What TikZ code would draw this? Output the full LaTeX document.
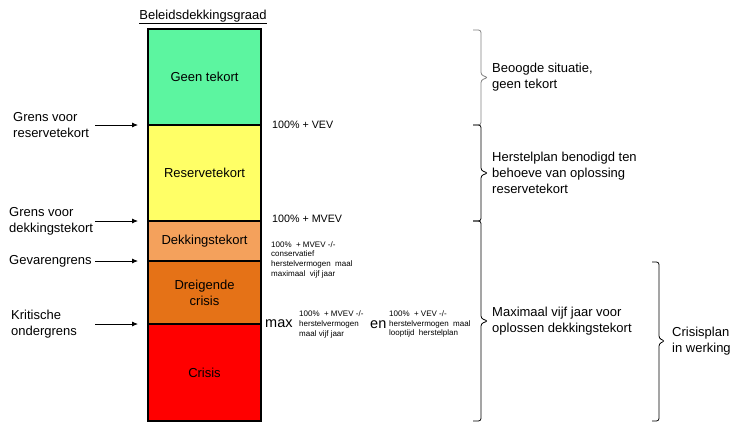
\documentclass[tikz,border=0pt]{standalone}
\usepackage{fontspec}
\setmainfont{Liberation Sans}
\usepackage{tikz}
\usetikzlibrary{arrows.meta, positioning}
\definecolor{geengroen}{HTML}{5CF5A0}
\definecolor{reservegeel}{HTML}{FFFF66}
\definecolor{dekkingoranje}{HTML}{F4A15C}
\definecolor{dreigoranje}{HTML}{E57217}
\definecolor{crisisrood}{HTML}{FF0000}
\definecolor{accgrijs}{HTML}{808080}

\begin{document}
\begin{tikzpicture}[x=1pt, y=-1pt,
    vak/.style={draw=black, line width=1.5pt, minimum width=113pt, inner sep=0pt, outer sep=0pt,
      align=center, anchor=north, font={\fontsize{13}{16}\selectfont}},
    tekst/.style={anchor=west, inner sep=0pt, align=left, font={\fontsize{13}{16}\selectfont}},
    kleintekst/.style={anchor=west, inner sep=0pt, align=left, font={\fontsize{8}{9.7}\selectfont}},
    pijl/.style={-{Latex[length=6pt, width=5pt]}, line width=0.8pt, shorten >=10pt},
    accolade/.style={line width=0.8pt, rounded corners=2.5pt}]
    \useasboundingbox (0,0) rectangle (733,426);
    % Title
    \node[inner sep=0pt, anchor=base, font={\fontsize{13}{16}\selectfont}] (titel) at (203,19) {\underline{Beleidsdekkingsgraad}};
    % Column of zones
    \node[vak, fill=geengroen, minimum height=96pt] (geen) at (204.5,29) {Geen tekort};
    \node[vak, fill=reservegeel, minimum height=96pt, below=0pt of geen] (reserve) {Reservetekort};
    \node[vak, fill=dekkingoranje, minimum height=40pt, below=0pt of reserve] (dekking) {Dekkingstekort};
    \node[vak, fill=dreigoranje, minimum height=63pt, below=0pt of dekking] (dreigend) {Dreigende\\crisis};
    \node[vak, fill=crisisrood, minimum height=97pt, below=0pt of dreigend] (crisis) {Crisis};
    % Boundaries on the left
    \coordinate (pijlstart) at (95,0);
    \node[tekst] (grensres) at (13,125) {Grens voor\\reservetekort};
    \node[tekst] (grensdek) at (9,221) {Grens voor\\dekkingstekort};
    \node[tekst] (gevaren) at (9,261) {Gevarengrens};
    \node[tekst] (kritisch) at (11,324) {Kritische\\ondergrens};
    \draw[pijl] (pijlstart |- reserve.north west) -- (reserve.north west);
    \draw[pijl] (pijlstart |- dekking.north west) -- (dekking.north west);
    \draw[pijl] (pijlstart |- dreigend.north west) -- (dreigend.north west);
    \draw[pijl] (pijlstart |- crisis.north west) -- (crisis.north west);
    % Levels on the right of the column
    \node[tekst, font={\fontsize{10.7}{13}\selectfont}] (vev) at (272,125) {100\% + VEV};
    \node[tekst, font={\fontsize{10.7}{13}\selectfont}] (mvev) at (272,219) {100\% + MVEV};
    \node[kleintekst] (gevarenformule) at (271,259.5) {100\%\ \ + MVEV -/-\\conservatief\\herstelvermogen\ \ maal\\maximaal\ \ vijf jaar};
    \node[tekst, font={\fontsize{14.5}{16}\selectfont}] (max) at (265,324) {max};
    \node[kleintekst] (formule1) at (299,324.5) {100\%\ \ + MVEV -/-\\herstelvermogen\\maal vijf jaar};
    \node[tekst, font={\fontsize{14.5}{16}\selectfont}] (en) at (370,325) {en};
    \node[kleintekst] (formule2) at (389,324) {100\%\ \ + VEV -/-\\herstelvermogen\ \ maal\\looptijd\ \ herstelplan};
    % Braces
    \draw[accolade, accgrijs] (473,30) -- (481,30) -- (481,75) -- (488,77.5) -- (481,80) -- (481,125) -- (473,125);
    \draw[accolade] (473,125) -- (481,125) -- (481,170.5) -- (488,173) -- (481,175.5) -- (481,221) -- (473,221);
    \draw[accolade] (473,221) -- (481,221) -- (481,318.5) -- (488,321) -- (481,323.5) -- (481,421) -- (473,421);
    \draw[accolade] (652,262) -- (659,262) -- (659,338.5) -- (665,341) -- (659,343.5) -- (659,421) -- (652,421);
    \node[tekst] (beoogd) at (492,77) {Beoogde situatie,\\geen tekort};
    \node[tekst] (herstel) at (492,173) {Herstelplan benodigd ten\\behoeve van oplossing\\reservetekort};
    \node[tekst] (maximaal) at (492,321) {Maximaal vijf jaar voor\\oplossen dekkingstekort};
    \node[tekst] (crisisplan) at (672,341) {Crisisplan\\in werking};
\end{tikzpicture}
\end{document}
